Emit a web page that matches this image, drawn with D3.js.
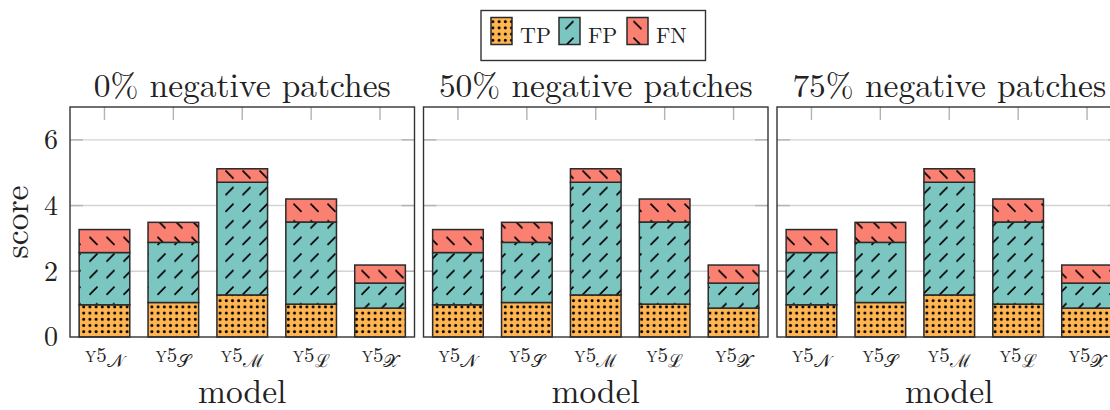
<!DOCTYPE html>
<html lang="en">
<head>
  <meta charset="UTF-8">
  <script src="https://d3js.org/d3.v7.min.js"></script>
  <style>
    body { margin: 0; background: white; }
  </style>
</head>
<body>
  <svg id="chart" width="1110" height="410"></svg>
  <script>
    // data (stacked: TP, FP on top, FN on top)
    const panels = ["0% negative patches", "50% negative patches", "75% negative patches"];
    const models = ["\u{1D4A9}", "\u{1D4AE}", "\u2133", "\u2112", "\u{1D4B3}"];
    const tp = [0.98, 1.05, 1.28, 1.00, 0.88];
    const fp = [1.59, 1.83, 3.43, 2.50, 0.76];
    const fn = [0.70, 0.61, 0.41, 0.70, 0.55];
    const yTicks = [0, 2, 4, 6];
    const series = ["TP", "FP", "FN"];

    const colors = { TP: "#ffb552", FP: "#7cc6c1", FN: "#fa8072" };
    const font = "'Latin Modern Roman', 'Liberation Serif', serif";

    const svg = d3.select("#chart").style("font-family", font);
    const defs = svg.append("defs");

    // dotted fill
    const pDot = defs.append("pattern").attr("id", "pat-TP")
      .attr("patternUnits", "userSpaceOnUse").attr("width", 6.2).attr("height", 6.2);
    pDot.append("rect").attr("width", 6.2).attr("height", 6.2).attr("fill", colors.TP);
    pDot.append("circle").attr("cx", 3.1).attr("cy", 3.1).attr("r", 1.5).attr("fill", "#000");

    // dashed north-east fill
    const pNE = defs.append("pattern").attr("id", "pat-FP")
      .attr("patternUnits", "userSpaceOnUse").attr("width", 17).attr("height", 16.6);
    pNE.append("rect").attr("width", 17).attr("height", 16.6).attr("fill", colors.FP);
    pNE.append("line").attr("x1", 4.5).attr("y1", 12.5).attr("x2", 12.5).attr("y2", 4.5)
      .attr("stroke", "#000").attr("stroke-width", 1.7);

    // dashed north-west fill
    const pNW = defs.append("pattern").attr("id", "pat-FN")
      .attr("patternUnits", "userSpaceOnUse").attr("width", 17).attr("height", 16.6);
    pNW.append("rect").attr("width", 17).attr("height", 16.6).attr("fill", colors.FN);
    pNW.append("line").attr("x1", 4.5).attr("y1", 4.5).attr("x2", 12.5).attr("y2", 12.5)
      .attr("stroke", "#000").attr("stroke-width", 1.7);

    const panelW = 344.5, panelGap = 9, left0 = 70;
    const plotTop = 107, plotBottom = 337;

    const y = d3.scaleLinear().domain([0, 7]).range([plotBottom, plotTop]);
    const stackData = models.map((m, i) => ({ model: m, TP: tp[i], FP: fp[i], FN: fn[i] }));
    const stacked = d3.stack().keys(series)(stackData);

    panels.forEach((title, p) => {
      const x0 = left0 + p * (panelW + panelGap);
      const x = d3.scaleBand().domain(models).range([x0, x0 + panelW])
        .paddingInner(0.265).paddingOuter(0.1325);
      const g = svg.append("g");

      // grid lines
      g.selectAll("line.grid").data(yTicks.slice(1)).join("line")
        .attr("x1", x0).attr("x2", x0 + panelW)
        .attr("y1", d => y(d)).attr("y2", d => y(d))
        .attr("stroke", "#d4d4d4").attr("stroke-width", 1.4);
      // y ticks left & right
      [x0, x0 + panelW].forEach((xe, k) => {
        g.selectAll("line.yt" + k).data(yTicks.slice(1)).join("line")
          .attr("x1", xe).attr("x2", xe + (k ? -13 : 13))
          .attr("y1", d => y(d)).attr("y2", d => y(d))
          .attr("stroke", "#b3b3b3").attr("stroke-width", 1.4);
      });
      // x ticks top
      g.selectAll("line.xt").data(models).join("line")
        .attr("x1", d => x(d) + x.bandwidth() / 2).attr("x2", d => x(d) + x.bandwidth() / 2)
        .attr("y1", plotTop).attr("y2", plotTop + 13)
        .attr("stroke", "#b3b3b3").attr("stroke-width", 1.4);

      // bars
      stacked.forEach(s => {
        g.selectAll("rect.b" + s.key).data(s).join("rect")
          .attr("x", d => x(d.data.model))
          .attr("width", x.bandwidth())
          .attr("y", d => y(d[1]))
          .attr("height", d => y(d[0]) - y(d[1]))
          .attr("fill", "url(#pat-" + s.key + ")")
          .attr("stroke", "#2a2a2a").attr("stroke-width", 1.5);
      });

      // frame
      g.append("rect").attr("x", x0).attr("y", plotTop).attr("width", panelW).attr("height", plotBottom - plotTop)
        .attr("fill", "none").attr("stroke", "#333").attr("stroke-width", 1.4);

      // x tick labels
      const lab = g.selectAll("text.xl").data(models).join("text")
        .attr("x", d => x(d) + x.bandwidth() / 2)
        .attr("y", 362)
        .attr("text-anchor", "middle").attr("fill", "#222");
      lab.append("tspan").attr("font-size", 21).style("font-variant", "small-caps").text("y");
      lab.append("tspan").attr("font-size", 21).text("5");
      lab.append("tspan").attr("font-size", 18).attr("dy", 5).text(d => d);

      // x axis title
      g.append("text").attr("x", x0 + panelW / 2).attr("y", 403).attr("fill", "#222")
        .attr("text-anchor", "middle").attr("font-size", 33.5).text("model");

      // panel title
      g.append("text").attr("x", x0 + panelW / 2).attr("y", 97).attr("fill", "#222")
        .attr("text-anchor", "middle").attr("font-size", 33.5).text(title);

      if (p === 0) {
        g.selectAll("text.yl").data(yTicks).join("text")
          .attr("x", 58).attr("y", d => y(d)).attr("fill", "#222")
          .attr("dy", "0.33em").attr("text-anchor", "end")
          .attr("font-size", 28).text(d => d);
      }
    });

    // y axis title
    svg.append("text").attr("transform", "translate(28,222) rotate(-90)").attr("fill", "#222")
      .attr("text-anchor", "middle").attr("font-size", 33.5).text("score");

    // legend
    const leg = svg.append("g");
    leg.append("rect").attr("x", 481).attr("y", 10.5).attr("width", 224.5).attr("height", 50)
      .attr("fill", "white").attr("stroke", "#333").attr("stroke-width", 1.4);
    const legX = [491, 559, 627];
    series.forEach((s, i) => {
      leg.append("rect").attr("x", legX[i]).attr("y", 17.5).attr("width", 21).attr("height", 27)
        .attr("fill", "url(#pat-" + s + ")").attr("stroke", "#2a2a2a").attr("stroke-width", 1.5);
      leg.append("text").attr("x", legX[i] + 29).attr("y", 43).attr("font-size", 22).attr("fill", "#222")
        .text(s);
    });
  </script>
</body>
</html>
